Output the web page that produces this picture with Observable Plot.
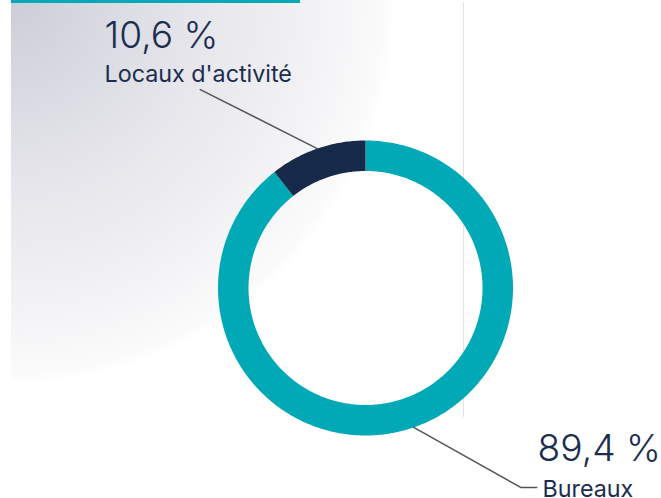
<!DOCTYPE html>
<html>
<head>
<meta charset="utf-8">
<script src="https://cdn.jsdelivr.net/npm/d3@7"></script>
<script src="https://cdn.jsdelivr.net/npm/@observablehq/plot@0.6"></script>
<style>
  html, body { margin: 0; padding: 0; background: #fff; }
  #wrap { position: relative; width: 661px; height: 498px; overflow: hidden; font-family: Inter, sans-serif; }
  #bg { position: absolute; left: 11px; top: 0; width: 420px; height: 400px;
        background: radial-gradient(circle 385px at 0px 0px, #cdcdd9 0%, #e4e4ea 45%, #f5f5f7 85%, #fbfbfc 97%, rgba(255,255,255,0) 100%); }
  #topbar { position: absolute; left: 11px; top: 0; width: 289px; height: 3px; background: #00a9b5; }
  #vline { position: absolute; left: 463px; top: 2px; width: 1px; height: 415px; background: #e3e3e6; }
  #chart { position: absolute; left: 0; top: 0; }
</style>
</head>
<body>
<div id="wrap">
  <div id="bg"></div>
  <div id="topbar"></div>
  <div id="vline"></div>
  <div id="chart"></div>
</div>
<script>
// ---- data ----
const categories = ["Locaux d'activité", "Bureaux"];
const values = [10.6, 89.4];
const valueLabels = ["10,6 %", "89,4 %"];
const colors = ["#172a4a", "#00a9b5"];

// ---- layout ----
const W = 661, H = 498;
const cx = 365, cy = 287.5, R = 147.5, r = 117;

const data = categories.map((c, i) => ({cat: c, value: values[i], label: valueLabels[i]}));
// drawing order: Bureaux first clockwise from top, Locaux ends at top
const pie = d3.pie().sort(null).value(d => d.value)([data[1], data[0]]);

const pt = (a, rad) => ({x: cx + rad * Math.sin(a), y: cy - rad * Math.cos(a)});
const poly = [];
for (const s of pie) {
  const n = Math.max(8, Math.ceil((s.endAngle - s.startAngle) * 80));
  for (let k = 0; k <= n; k++) poly.push({cat: s.data.cat, ...pt(s.startAngle + (s.endAngle - s.startAngle) * k / n, R)});
  for (let k = n; k >= 0; k--) poly.push({cat: s.data.cat, ...pt(s.startAngle + (s.endAngle - s.startAngle) * k / n, r)});
}

// leader lines: start on the outer edge at the slice's mid-angle
const leaderOffsets = {
  "Locaux d'activité": [[-117, -59]],
  "Bureaux": [[107, 60], [123, 60]]
};
const leaders = [];
for (const s of pie) {
  const mid = (s.startAngle + s.endAngle) / 2;
  const p0 = pt(mid, R);
  leaders.push({cat: s.data.cat, x: p0.x, y: p0.y});
  for (const [dx, dy] of leaderOffsets[s.data.cat]) leaders.push({cat: s.data.cat, x: p0.x + dx, y: p0.y + dy});
}

const labelPos = {
  "Locaux d'activité": {x: 104, yv: 47, xc: 104, yc: 81.5, fc: 23.5},
  "Bureaux": {x: 537, yv: 460, xc: 542, yc: 496, fc: 23}
};
const valueText = data.map(d => ({...d, x: labelPos[d.cat].x, y: labelPos[d.cat].yv}));
const catText = data.map(d => ({...d, x: labelPos[d.cat].xc, y: labelPos[d.cat].yc}));

const chart = Plot.plot({
  width: W, height: H,
  margin: 0,
  style: {background: "transparent", fontFamily: "Inter, sans-serif", overflow: "visible"},
  x: {domain: [0, W], range: [0, W], axis: null},
  y: {domain: [0, H], range: [0, H], axis: null},
  color: {domain: categories, range: colors},
  marks: [
    Plot.line(poly, {x: "x", y: "y", z: "cat", fill: "cat", stroke: "none"}),
    Plot.line(leaders, {x: "x", y: "y", z: "cat", stroke: "#555555", strokeWidth: 1.5}),
    Plot.text(valueText, {x: "x", y: "y", text: "label", textAnchor: "start", lineAnchor: "bottom",
      fontSize: 37.2, fontWeight: 300, fill: "#1b2d4f", fontFamily: "Inter"}),
    Plot.text(catText, {x: "x", y: "y", text: "cat", textAnchor: "start", lineAnchor: "bottom",
      fontSize: 23.3, fontWeight: 400, fill: "#1b2d4f", fontFamily: "Inter"})
  ]
});
document.getElementById("chart").appendChild(chart);
</script>
</body>
</html>
